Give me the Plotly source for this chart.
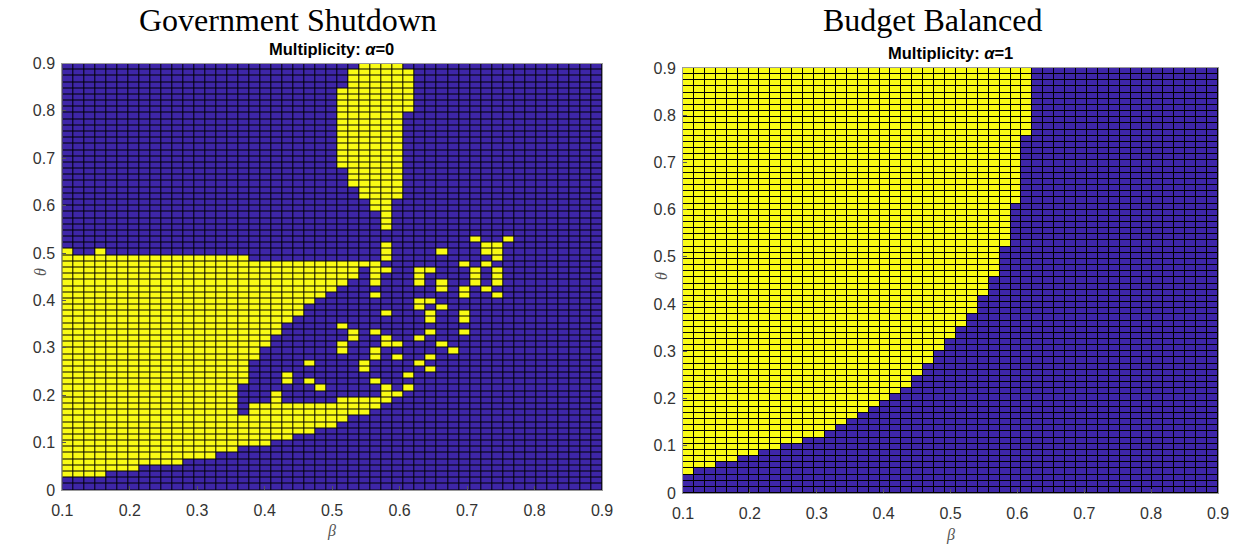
import numpy as np
import plotly.graph_objects as go

# ---------------- grid (pcolor style cells) ----------------
beta_edges = np.linspace(0.1, 0.9, 50)     # 49 beta cells
theta_edges = np.linspace(0.0, 0.9, 70)    # 69 theta cells
beta = (beta_edges[:-1] + beta_edges[1:]) / 2
theta = (theta_edges[:-1] + theta_edges[1:]) / 2

x_ticks = [0.1, 0.2, 0.3, 0.4, 0.5, 0.6, 0.7, 0.8, 0.9]
y_ticks = [0, 0.1, 0.2, 0.3, 0.4, 0.5, 0.6, 0.7, 0.8, 0.9]

# ---------------- Government Shutdown (alpha = 0) ----------------
# yellow (multiplicity) runs of theta-rows for each beta-column, inclusive
shutdown_runs = [
    [(2, 38)], [(2, 37)], [(2, 37)], [(2, 38)],
    [(3, 37)], [(3, 37)], [(3, 37)],
    [(4, 37)], [(4, 37)], [(4, 37)], [(4, 37)],
    [(5, 37)], [(5, 37)], [(5, 37)],
    [(6, 37)], [(6, 37)],
    [(7, 11), (17, 37)],
    [(7, 13), (21, 36)],
    [(7, 13), (23, 36)],
    [(8, 15), (25, 36)],
    [(8, 13), (17, 18), (27, 36)],
    [(9, 13), (28, 36)],
    [(9, 13), (17, 17), (20, 20), (30, 36)],
    [(10, 13), (16, 16), (31, 36)],
    [(10, 13), (32, 36)],
    [(11, 14), (22, 23), (26, 26), (33, 36), (52, 64)],
    [(12, 14), (24, 25), (34, 36), (49, 67)],
    [(12, 14), (19, 20), (36, 36), (47, 68)],
    [(13, 14), (17, 17), (21, 22), (25, 25), (31, 31), (33, 36), (45, 68)],
    [(14, 16), (23, 24), (28, 28), (35, 35), (37, 39), (42, 68)],
    [(15, 15), (21, 21), (23, 23), (47, 68)],
    [(16, 16), (18, 18), (61, 67)],
    [(20, 20), (24, 24), (29, 30), (33, 35)],
    [(19, 19), (21, 21), (25, 25), (27, 28), (30, 30), (35, 35)],
    [(23, 23), (29, 29), (32, 33), (38, 38)],
    [(22, 22)],
    [(25, 25), (27, 28), (31, 32), (36, 36)],
    [(33, 35), (40, 40)],
    [(32, 32), (36, 36), (38, 39)],
    [(31, 31), (33, 35), (37, 39)],
    [(40, 40)],
    [], [], [], [], [], [], [], [],
]

# ---------------- Budget Balanced (alpha = 1) ----------------
# first yellow theta-row of each beta-column (yellow up to the top); None = none
budget_first_row = [3, 4, 4, 5, 5, 6, 6, 7, 7, 8, 8, 9, 9, 10, 11, 12, 13, 14,
                    15, 16, 17, 19, 21, 23, 25, 27, 29, 32, 35, 40, 47, 58] + [None] * 17

n_rows, n_cols = len(theta), len(beta)

z_shut = np.zeros((n_rows, n_cols))
for c, runs in enumerate(shutdown_runs):
    for a, b in runs:
        z_shut[a:b + 1, c] = 1

z_budget = np.zeros((n_rows, n_cols))
for c, r0 in enumerate(budget_first_row):
    if r0 is not None:
        z_budget[r0:, c] = 1

BLUE = "#3E26A8"
YELLOW = "#F9FB15"
cscale = [[0, BLUE], [0.5, BLUE], [0.5, YELLOW], [1, YELLOW]]

W, H = 1236, 546
fig = go.Figure()
for z, xa, ya in [(z_shut, "x", "y"), (z_budget, "x2", "y2")]:
    fig.add_trace(go.Heatmap(
        x=beta, y=theta, z=z, colorscale=cscale, zmin=0, zmax=1,
        showscale=False, xgap=1, ygap=1, xaxis=xa, yaxis=ya,
        hoverinfo="skip"))

tickfont = dict(family="Liberation Sans, Arial, sans-serif", size=16, color="#333333")
ax_common = dict(showgrid=False, zeroline=False, showline=True, mirror=True,
                 linecolor="#9a9a9a", linewidth=1, ticks="inside", ticklen=4,
                 tickcolor="#555555", tickfont=tickfont, automargin=False)

L = dict(x0=62.3, x1=602, y0=63.5, y1=490)
R = dict(x0=683, x1=1218, y0=68, y1=493)

def dom_x(d):
    return [d["x0"] / W, d["x1"] / W]

def dom_y(d):
    return [1 - d["y1"] / H, 1 - d["y0"] / H]

fig.update_layout(
    width=W, height=H,
    margin=dict(l=0, r=0, t=0, b=0),
    paper_bgcolor="white", plot_bgcolor="black",
    xaxis=dict(domain=dom_x(L), range=[0.1, 0.9], tickvals=x_ticks,
               ticktext=[f"{v:g}" for v in x_ticks], anchor="y",
               ticklabelstandoff=6, **ax_common),
    yaxis=dict(domain=dom_y(L), range=[0, 0.9], tickvals=y_ticks,
               ticktext=[f"{v:g}" for v in y_ticks], anchor="x",
               ticklabelstandoff=3, **ax_common),
    xaxis2=dict(domain=dom_x(R), range=[0.1, 0.9], tickvals=x_ticks,
                ticktext=[f"{v:g}" for v in x_ticks], anchor="y2",
                ticklabelstandoff=6, **ax_common),
    yaxis2=dict(domain=dom_y(R), range=[0, 0.9], tickvals=y_ticks,
                ticktext=[f"{v:g}" for v in y_ticks], anchor="x2",
                ticklabelstandoff=3, **ax_common),
)

serif = "Liberation Serif, Times New Roman, serif"
sans_b = "Liberation Sans, Arial, sans-serif"

def ann(text, px, py, size, family, color="black", angle=0):
    fig.add_annotation(text=text, x=px / W, y=1 - py / H, xref="paper", yref="paper",
                       showarrow=False, xanchor="center", yanchor="middle",
                       font=dict(family=family, size=size, color=color), textangle=angle)

ann("Government Shutdown", 288, 20, 32, serif)
ann("Budget Balanced", 932, 20, 32, serif)
ann("<b>Multiplicity: <i>α</i>=0</b>", 332, 49, 16.5, sans_b)
ann("<b>Multiplicity: <i>α</i>=1</b>", 950, 53, 16.5, sans_b)
ann("<i>β</i>", 332, 531, 16, serif, "#555555")
ann("<i>β</i>", 950, 535, 16, serif, "#555555")
ann("<i>θ</i>", 40, 272, 16, serif, "#555555", -90)
ann("<i>θ</i>", 661, 276, 16, serif, "#555555", -90)

fig.write_html("out.html",
               config={"displayModeBar": False, "staticPlot": True},
               post_script="document.body.style.margin='0';document.body.style.overflow='hidden';")
